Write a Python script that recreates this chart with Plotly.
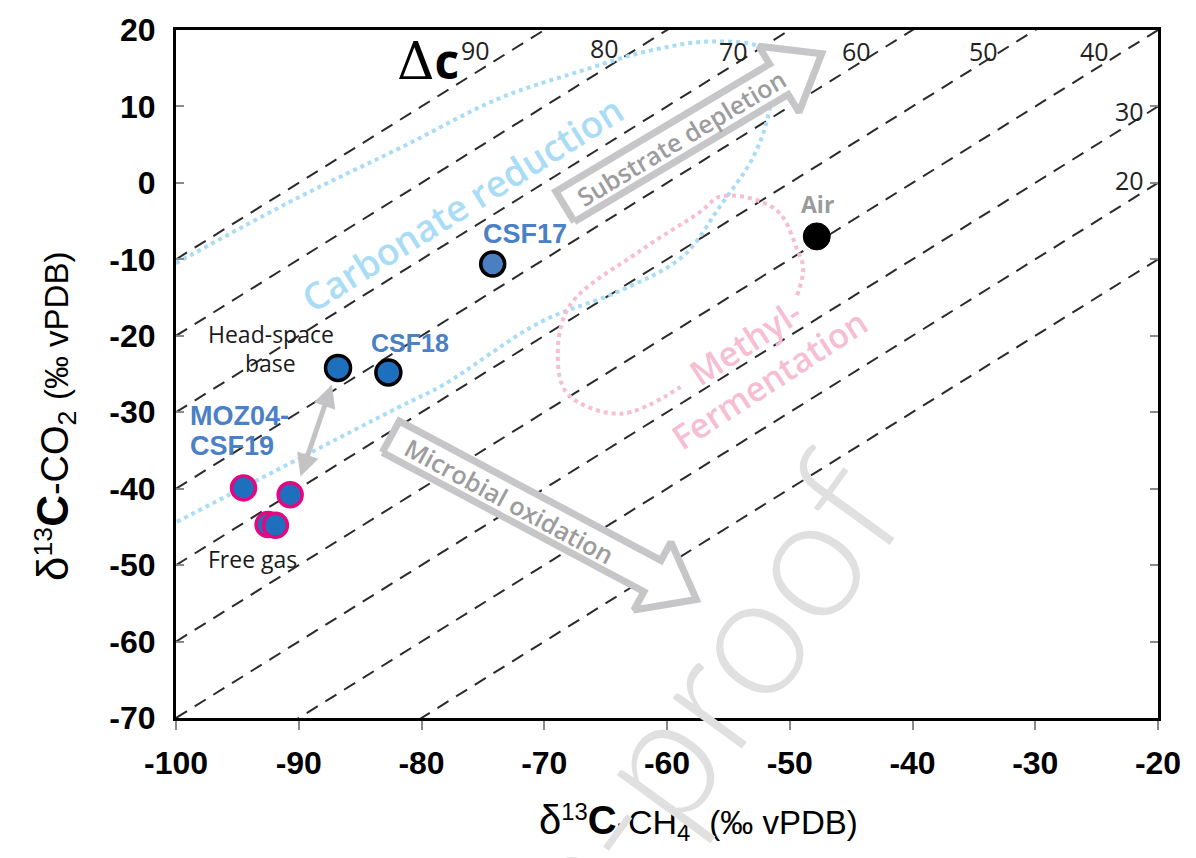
import plotly.graph_objects as go

# ---------------- layout constants ----------------
W, H = 1196, 858
ML, MR, MT, MB = 176, 38, 21, 140
X_RANGE = [-100, -20]
Y_RANGE = [-70, 20]
PW, PH = W - ML - MR, H - MT - MB

# ---------------- data ----------------
x_tick_vals = [-100, -90, -80, -70, -60, -50, -40, -30, -20]
x_tick_text = ["-100", "-90", "-80", "-70", "-60", "-50", "-40", "-30", "-20"]
y_tick_vals = [-70, -60, -50, -40, -30, -20, -10, 0, 10, 20]
y_tick_text = ["-70", "-60", "-50", "-40", "-30", "-20", "-10", "0", "10", "20"]

# iso-fractionation (Delta c) lines : d13C-CO2 = d13C-CH4 + Dc
dc_values = [10, 20, 30, 40, 50, 60, 70, 80, 90]
dc_line_x = [-100, -20]
dc_label_text = ["90", "80", "70", "60", "50", "40", "30", "20"]
dc_label_x = [-75.6, -65.1, -54.6, -44.6, -34.2, -25.2, -22.3, -22.3]
dc_label_y = [17.4, 17.7, 17.2, 17.3, 17.3, 17.3, 9.4, 0.4]

# samples
headspace_x = [-86.8, -82.7]
headspace_y = [-24.2, -24.8]
csf17_x = [-74.2]
csf17_y = [-10.6]
freegas_x = [-94.5, -90.7, -92.5, -91.9]
freegas_y = [-39.9, -40.8, -44.7, -44.8]
air_x = [-47.8]
air_y = [-7.0]

# carbonate reduction field (blue dotted)
carb_x = [-100.0, -89.9, -81.7, -73.6, -67.1, -61.4, -56.3, -52.2, -51.4, -51.8,
          -53.0, -55.7, -58.7, -63.8, -70.3, -78.2, -81.8, -89.9, -100.0]
carb_y = [-10.5, -1.8, 4.6, 11.1, 14.6, 17.3, 18.5, 17.5, 13.7, 8.5,
          3.3, -3.1, -9.6, -14.1, -18.2, -26.4, -29.3, -36.0, -44.4]

# methyl-fermentation field (pink dotted)
meth_x = [-49.4, -48.9, -49.4, -50.8, -53.0, -55.7, -57.3, -62.2, -67.9, -68.9,
          -68.1, -63.8, -58.9]
meth_y = [-14.7, -11.2, -8.7, -4.0, -2.1, -1.8, -3.8, -8.9, -16.0, -22.5,
          -27.6, -30.2, -26.7]

# process arrows (tail, tip in data units)
subst_tail = (-68.3, -3.1)
subst_tip = (-47.4, 16.9)
oxid_tail = (-82.5, -33.2)
oxid_tip = (-57.6, -54.5)

# double arrow head-space <-> free gas
dbl_from = (-89.9, -38.6)
dbl_to = (-87.3, -26.4)


# ---------------- helpers ----------------
def d2p(x, y):
    px = ML + (x - X_RANGE[0]) / (X_RANGE[1] - X_RANGE[0]) * PW
    py = MT + (Y_RANGE[1] - y) / (Y_RANGE[1] - Y_RANGE[0]) * PH
    return px, py


def p2d(px, py):
    x = X_RANGE[0] + (px - ML) / PW * (X_RANGE[1] - X_RANGE[0])
    y = Y_RANGE[1] - (py - MT) / PH * (Y_RANGE[1] - Y_RANGE[0])
    return x, y


def px2paper(px, py):
    return (px - ML) / PW, (MT + PH - py) / PH


def block_arrow(tail, tip, shaft_half=18, head_half=39, head_len=50):
    tx, ty = d2p(*tail)
    hx, hy = d2p(*tip)
    L = ((hx - tx) ** 2 + (hy - ty) ** 2) ** 0.5
    dx, dy = (hx - tx) / L, (hy - ty) / L
    nx, ny = -dy, dx
    bx, by = hx - head_len * dx, hy - head_len * dy
    pts = [
        (tx + shaft_half * nx, ty + shaft_half * ny),
        (bx + shaft_half * nx, by + shaft_half * ny),
        (bx + head_half * nx, by + head_half * ny),
        (hx, hy),
        (bx - head_half * nx, by - head_half * ny),
        (bx - shaft_half * nx, by - shaft_half * ny),
        (tx - shaft_half * nx, ty - shaft_half * ny),
    ]
    pts.append(pts[0])
    xs, ys = zip(*[p2d(*p) for p in pts])
    return list(xs), list(ys)


fig = go.Figure()

# Delta c lines
for dc in dc_values:
    fig.add_trace(go.Scatter(
        x=dc_line_x, y=[v + dc for v in dc_line_x], mode="lines",
        line=dict(color="#2b2b2b", width=2, dash="13px,9px"),
        hoverinfo="skip", showlegend=False))

# fields
fig.add_trace(go.Scatter(x=carb_x, y=carb_y, mode="lines",
                         line=dict(color="#a9dcf6", width=4, dash="dot", shape="spline", smoothing=1.0),
                         hoverinfo="skip", showlegend=False))
fig.add_trace(go.Scatter(x=meth_x, y=meth_y, mode="lines",
                         line=dict(color="#f6bdd3", width=4, dash="dot", shape="spline", smoothing=1.0),
                         hoverinfo="skip", showlegend=False))

# process arrows
for tail, tip in [(subst_tail, subst_tip), (oxid_tail, oxid_tip)]:
    ax_, ay_ = block_arrow(tail, tip)
    fig.add_trace(go.Scatter(x=ax_, y=ay_, mode="lines", fill="toself",
                             fillcolor="white",
                             line=dict(color="#c6c6c8", width=7),
                             hoverinfo="skip", showlegend=False))

# markers
fig.add_trace(go.Scatter(x=freegas_x, y=freegas_y, mode="markers",
                         marker=dict(size=24, color="#1f6fbf",
                                     line=dict(color="#e5077f", width=3.5)),
                         showlegend=False))
fig.add_trace(go.Scatter(x=headspace_x, y=headspace_y, mode="markers",
                         marker=dict(size=25, color="#1f6fbf",
                                     line=dict(color="black", width=3.5)),
                         showlegend=False))
fig.add_trace(go.Scatter(x=csf17_x, y=csf17_y, mode="markers",
                         marker=dict(size=24, color="#4b7fc2",
                                     line=dict(color="black", width=3.5)),
                         showlegend=False))
fig.add_trace(go.Scatter(x=air_x, y=air_y, mode="markers",
                         marker=dict(size=27, color="black",
                                     line=dict(color="black", width=1)),
                         showlegend=False))

ann = []


def add_text(x, y, text, font, ref="data", **kw):
    d = dict(x=x, y=y, text=text, showarrow=False, font=font,
             xanchor=kw.pop("xanchor", "center"), yanchor=kw.pop("yanchor", "middle"))
    if ref == "data":
        d.update(xref="x", yref="y")
    else:
        d.update(xref="paper", yref="paper")
    d.update(kw)
    ann.append(d)


# Delta c labels
for t, x, y in zip(dc_label_text, dc_label_x, dc_label_y):
    add_text(x, y, t, dict(family="Open Sans", size=25, color="#222"))
add_text(-79.5, 16.0,
         '<span style="font-family:DejaVu Serif;font-size:52px">Δ</span>'
         '<b><span style="font-family:Open Sans;font-size:48px">c</span></b>',
         dict(family="DejaVu Serif", size=48, color="black"))

bold_blue = dict(family="Liberation Sans, Arial", size=27, color="#4a80c6", weight="bold")
add_text(-71.6, -6.7, "CSF17", bold_blue)
add_text(-80.9, -20.9, "CSF18", dict(bold_blue, size=25))
add_text(-99.0, -30.5, "MOZ04-", bold_blue, xanchor="left")
add_text(-99.0, -34.4, "CSF19", bold_blue, xanchor="left")

plain = dict(family="Open Sans", size=23, color="#1a1a1a")
add_text(-92.3, -19.8, "Head-space", plain)
add_text(-92.3, -23.5, "base", plain)
add_text(-93.8, -49.2, "Free gas", plain)
add_text(-47.7, -2.7, "Air", dict(family="Open Sans", size=23, color="#9b9b9b", weight="bold"))

# field / process labels
add_text(-76.7, -2.7, "Carbonate reduction",
         dict(family="Open Sans", size=37, color="#a9dcf6", weight=600), textangle=-32)
add_text(-52.7, -23.3, "Methyl-<br>Fermentation",
         dict(family="Open Sans", size=34, color="#f6bdd3", weight=600), textangle=-33)
add_text(-58.9, 5.9, "Substrate depletion",
         dict(family="Open Sans", size=25, color="#9c9c9e", weight=600), textangle=-31)
add_text(-72.8, -41.6, "Microbial oxidation",
         dict(family="Open Sans", size=25, color="#9c9c9e", weight=600), textangle=28.5)

# double-headed arrow
ann.append(dict(x=dbl_to[0], y=dbl_to[1], ax=dbl_from[0], ay=dbl_from[1],
                xref="x", yref="y", axref="x", ayref="y", text="",
                showarrow=True, arrowhead=2, arrowside="end+start", arrowsize=0.9,
                arrowwidth=5, arrowcolor="#c3c3c5", standoff=0, startstandoff=0))

# axis titles
tx, ty = px2paper(698, 823)
add_text(tx, ty,
         '<span style="font-size:40px">δ</span><sup>13</sup>'
         '<b><span style="font-size:40px">C</span></b>-CH<sub>4</sub>'
         '  <span style="font-size:33px">(‰ vPDB)</span>',
         dict(family="Liberation Sans, Arial", size=34, color="black"), ref="paper")
tx, ty = px2paper(55, 413)
add_text(tx, ty,
         '<span style="font-size:44px">δ</span><sup>13</sup>'
         '<b><span style="font-size:44px">C</span></b>-CO<sub>2</sub>'
         ' <span style="font-size:33px">(‰ vPDB)</span>',
         dict(family="Liberation Sans, Arial", size=38, color="black"), ref="paper",
         textangle=-90)

# watermark
tx, ty = px2paper(480, 999)
add_text(tx, ty, "Journal Pre-proof",
         dict(family="Lato", size=172, color="#e0e0e0", weight=300), ref="paper",
         textangle=-54)

fig.update_layout(
    width=W, height=H,
    margin=dict(l=ML, r=MR, t=MT, b=MB),
    paper_bgcolor="white", plot_bgcolor="white",
    showlegend=False,
    annotations=ann,
    xaxis=dict(range=X_RANGE, tickvals=x_tick_vals, ticktext=x_tick_text,
               showgrid=False, zeroline=False,
               showline=True, linecolor="black", linewidth=3, mirror=True,
               ticks="outside", ticklen=9, tickwidth=2, tickcolor="#8a8a8a",
               ticklabelstandoff=6,
               tickfont=dict(family="Liberation Sans, Arial", size=32, color="black", weight="bold")),
    yaxis=dict(range=Y_RANGE, tickvals=y_tick_vals, ticktext=y_tick_text,
               showgrid=False, zeroline=False,
               showline=True, linecolor="black", linewidth=3, mirror="ticks",
               ticks="inside", ticklen=8, tickwidth=2, tickcolor="#8a8a8a",
               ticklabelstandoff=11,
               tickfont=dict(family="Liberation Sans, Arial", size=32, color="black", weight="bold")),
)

fig.write_html("out.html")
